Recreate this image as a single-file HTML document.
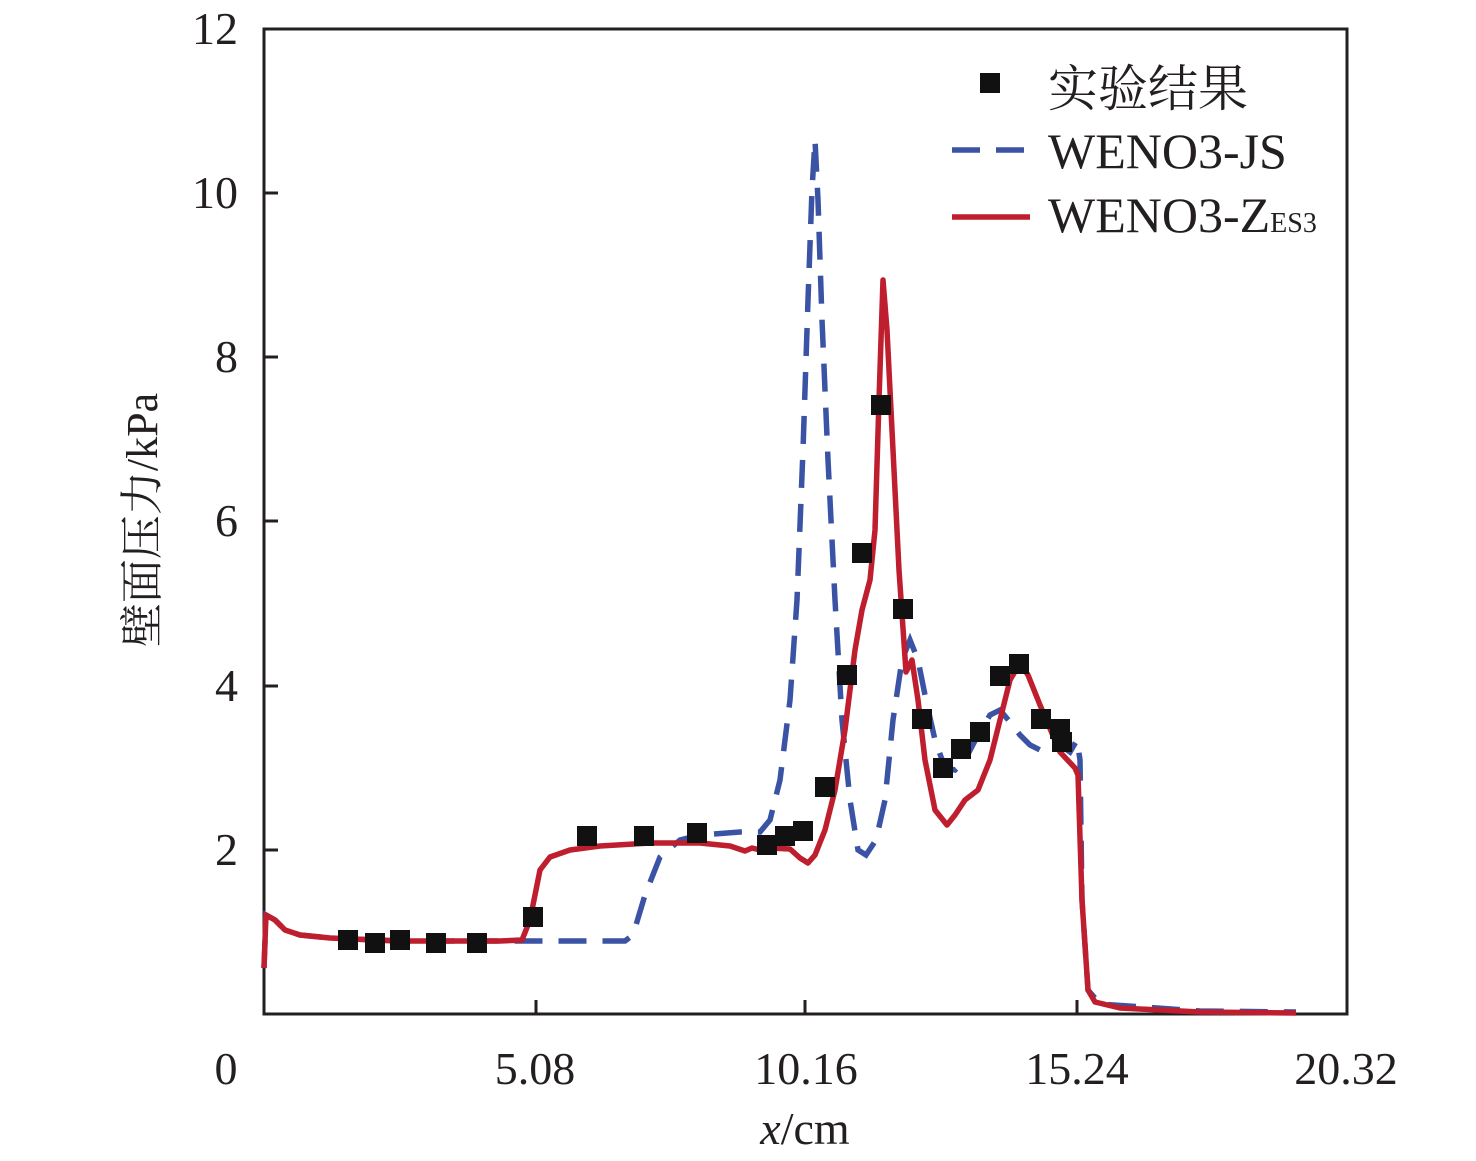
<!DOCTYPE html>
<html><head><meta charset="utf-8"><style>body{margin:0;background:#fff}svg{display:block}text{font-family:"Liberation Serif","Noto Serif CJK SC",serif;fill:#231f20}</style></head><body>
<svg width="1476" height="1161" viewBox="0 0 1476 1161" xmlns="http://www.w3.org/2000/svg">
<rect x="264" y="29" width="1083" height="985" fill="none" stroke="#231f20" stroke-width="3"/>
<g stroke="#231f20" stroke-width="3">
<line x1="536" y1="1014" x2="536" y2="1000"/><line x1="805" y1="1014" x2="805" y2="1000"/><line x1="1077" y1="1014" x2="1077" y2="1000"/>
<line x1="264" y1="850" x2="278" y2="850"/><line x1="264" y1="686" x2="278" y2="686"/><line x1="264" y1="521" x2="278" y2="521"/><line x1="264" y1="357" x2="278" y2="357"/><line x1="264" y1="193" x2="278" y2="193"/>
</g>
<g font-size="46" text-anchor="end">
<text x="238" y="44">12</text><text x="238" y="208">10</text><text x="238" y="372">8</text><text x="238" y="536">6</text><text x="238" y="701">4</text><text x="238" y="865">2</text>
</g>
<g font-size="46" text-anchor="middle">
<text x="226" y="1084">0</text><text x="535" y="1084">5.08</text><text x="806" y="1084">10.16</text><text x="1077" y="1084">15.24</text><text x="1346" y="1084">20.32</text>
<text x="805" y="1144"><tspan font-style="italic">x</tspan>/cm</text>
</g>
<text font-size="44" text-anchor="middle" transform="translate(157,520) rotate(-90)">壁面压力/kPa</text>
<polyline fill="none" stroke="#3a53a4" stroke-width="5.5" stroke-dasharray="28,16" points="264,968 266,915 275,920 285,930 300,935 330,938 400,941 500,941 625,941 633,935 645,895 660,857 680,840 700,835 740,832 760,832 770,820 780,780 790,700 797,600 803,450 808,300 812,190 815,140 818,200 822,320 828,460 835,600 842,720 850,800 858,850 866,855 876,840 885,800 893,720 902,660 910,640 918,660 926,700 935,740 945,768 955,770 965,760 978,735 990,715 1000,710 1010,722 1020,735 1030,745 1040,750 1050,748 1060,745 1070,752 1077,740 1080,760 1082,900 1088,990 1100,1004 1200,1011 1296,1012"/>
<polyline fill="none" stroke="#be1e2d" stroke-width="5.5" stroke-linejoin="round" points="264,968 266,915 275,920 285,930 300,935 330,938 400,941 500,941 522,940 530,920 540,870 550,857 570,850 600,846 650,843 700,843 730,846 745,851 752,848 760,850 770,848 790,849 800,858 808,863 815,855 825,830 835,790 845,730 855,650 862,610 870,580 875,530 879,400 883,280 887,330 893,450 899,570 906,672 912,660 918,700 925,760 935,810 947,825 955,815 965,800 978,790 990,760 1000,720 1010,680 1020,663 1028,675 1040,705 1060,752 1075,768 1078,775 1082,900 1088,990 1095,1002 1120,1008 1200,1012 1296,1013"/>
<g fill="#111">
<rect x="338" y="930" width="20" height="20"/><rect x="365" y="933" width="20" height="20"/><rect x="390" y="930" width="20" height="20"/><rect x="426" y="933" width="20" height="20"/><rect x="467" y="933" width="20" height="20"/><rect x="523" y="907" width="20" height="20"/><rect x="577" y="826" width="20" height="20"/><rect x="634" y="826" width="20" height="20"/><rect x="687" y="823" width="20" height="20"/><rect x="757" y="835" width="20" height="20"/><rect x="775" y="826" width="20" height="20"/><rect x="793" y="821" width="20" height="20"/><rect x="815" y="777" width="20" height="20"/><rect x="837" y="665" width="20" height="20"/><rect x="852" y="543" width="20" height="20"/><rect x="871" y="395" width="20" height="20"/><rect x="893" y="599" width="20" height="20"/><rect x="912" y="709" width="20" height="20"/><rect x="933" y="758" width="20" height="20"/><rect x="951" y="739" width="20" height="20"/><rect x="970" y="722" width="20" height="20"/><rect x="990" y="666" width="20" height="20"/><rect x="1009" y="654" width="20" height="20"/><rect x="1031" y="709" width="20" height="20"/><rect x="1050" y="719" width="20" height="20"/><rect x="1052" y="732" width="20" height="20"/>
<rect x="980" y="73" width="20" height="20"/>
</g>
<line x1="952" y1="150" x2="1030" y2="150" stroke="#3a53a4" stroke-width="5.5" stroke-dasharray="28,16"/>
<line x1="952" y1="217" x2="1030" y2="217" stroke="#be1e2d" stroke-width="5.5"/>
<g font-size="50">
<text x="1048" y="106">实验结果</text>
<text x="1048" y="168">WENO3-JS</text>
<text x="1048" y="232">WENO3-Z<tspan font-size="28">ES3</tspan></text>
</g>
</svg>
</body></html>
